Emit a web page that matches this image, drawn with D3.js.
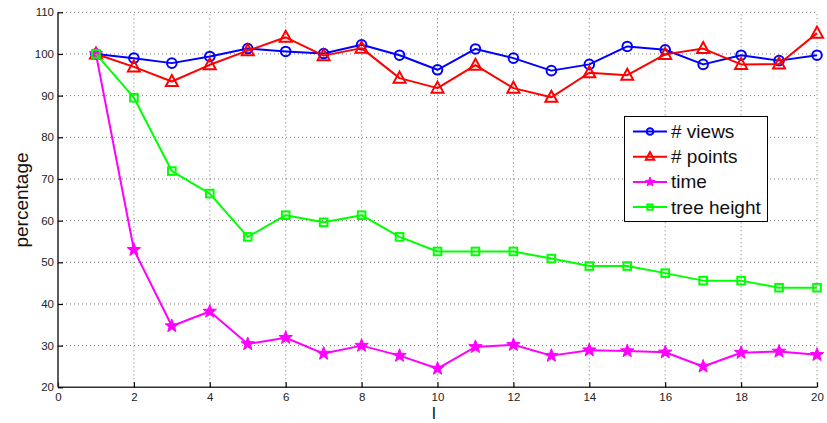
<!DOCTYPE html>
<html><head><meta charset="utf-8">
<script src="https://cdn.jsdelivr.net/npm/d3@7/dist/d3.min.js"></script>
<style>body{margin:0;background:#fff}svg{display:block}text{font-family:"Liberation Sans",Arial,sans-serif}</style>
</head><body><svg id="c" width="827" height="423"></svg>
<script>
const xs = d3.range(1, 21);
const views  = [100, 99.0, 97.8, 99.4, 101.3, 100.6, 100.1, 102.2, 99.7, 96.2, 101.2, 99.0, 96.0, 97.5, 101.8, 101.0, 97.5, 99.7, 98.4, 99.7];
const points = [100, 96.9, 93.4, 97.4, 100.8, 104.0, 99.6, 101.4, 94.2, 91.8, 97.3, 91.8, 89.6, 95.5, 94.9, 99.9, 101.3, 97.5, 97.6, 105.0];
const time   = [100, 53.0, 34.7, 38.2, 30.4, 31.9, 28.1, 30.0, 27.6, 24.5, 29.7, 30.2, 27.6, 28.9, 28.7, 28.4, 25.0, 28.3, 28.6, 27.8];
const treeH  = [100, 89.5, 71.9, 66.5, 56.1, 61.3, 59.6, 61.3, 56.1, 52.6, 52.6, 52.6, 50.9, 49.1, 49.1, 47.4, 45.6, 45.6, 43.9, 43.9];
const seriesNames = ["# views", "# points", "time", "tree height"];
const seriesColors = ["#0000ff", "#ff0000", "#ff00ff", "#00ff00"];
const seriesMarkers = ["circle", "triangle", "star", "square"];
const xTicks = d3.range(0, 21, 2);
const yTicks = d3.range(20, 111, 10);

const svg = d3.select("#c");
const x = d3.scaleLinear().domain([0, 20]).range([58, 817]);
const y = d3.scaleLinear().domain([20, 110]).range([387.3, 12.3]);

// grid
const g = svg.append("g");
g.selectAll(".gx").data(xTicks.filter(d => d > 0)).enter().append("line")
  .attr("x1", d => x(d)).attr("x2", d => x(d)).attr("y1", y(20)).attr("y2", y(110))
  .attr("stroke", "#777").attr("stroke-width", 1).attr("stroke-dasharray", "1,3");
g.selectAll(".gy").data(yTicks.filter(d => d > 20)).enter().append("line")
  .attr("x1", x(0)).attr("x2", x(20)).attr("y1", d => y(d)).attr("y2", d => y(d))
  .attr("stroke", "#777").attr("stroke-width", 1).attr("stroke-dasharray", "1,3");

// axes
const xAxis = d3.axisBottom(x).tickValues(xTicks).tickSize(-5).tickPadding(6).tickFormat(d3.format("d"));
const yAxis = d3.axisLeft(y).tickValues(yTicks).tickSize(-5).tickPadding(4).tickFormat(d3.format("d"));
const ax = svg.append("g").attr("transform", `translate(0,${y(20)})`).call(xAxis);
const ay = svg.append("g").attr("transform", `translate(${x(0)},0)`).call(yAxis);
[ax, ay].forEach(a => {
  a.select(".domain").attr("stroke", "#333").attr("stroke-width", 1.6);
  a.selectAll(".tick line").attr("stroke", "#000").attr("stroke-width", 1.2);
  a.selectAll(".tick text").attr("font-size", 11.5).attr("fill", "#222")
   .attr("font-family", "'Liberation Sans',Arial,sans-serif");
});
ay.select(".domain").attr("d", `M0,${y(20)}V${y(110)}`);
ax.select(".domain").attr("d", `M${x(0)},0H${x(20)}`);

// labels
svg.append("text").attr("transform", "translate(28,200) rotate(-90)").attr("text-anchor", "middle")
  .attr("font-size", 19).attr("fill", "#111").text("percentage");
svg.append("text").attr("x", 434).attr("y", 419).attr("text-anchor", "middle")
  .attr("font-size", 17).attr("fill", "#111").text("l");

function starPath(R, r) {
  let p = [];
  for (let i = 0; i < 10; i++) {
    const rad = i % 2 ? r : R;
    const a = -Math.PI / 2 + i * Math.PI / 5;
    p.push([rad * Math.cos(a), rad * Math.sin(a)]);
  }
  return "M" + p.map(q => q.join(",")).join("L") + "Z";
}
function drawMarker(sel, type, color, scale) {
  const s = scale;
  if (type === "circle") sel.append("circle").attr("r", 4.8 * s).attr("fill", "none").attr("stroke", color).attr("stroke-width", 2);
  else if (type === "triangle") sel.append("path").attr("d", `M0,${-6.5*s}L${6*s},${4.5*s}L${-6*s},${4.5*s}Z`).attr("fill", "none").attr("stroke", color).attr("stroke-width", 2);
  else if (type === "star") sel.append("path").attr("d", starPath(7 * s, 2.9 * s)).attr("fill", color).attr("stroke", color).attr("stroke-width", 1);
  else if (type === "square") sel.append("rect").attr("x", -3.8 * s).attr("y", -3.8 * s).attr("width", 7.6 * s).attr("height", 7.6 * s).attr("fill", "none").attr("stroke", color).attr("stroke-width", 2);
}

const allSeries = [views, points, time, treeH];
const line = d3.line().x((d, i) => x(xs[i])).y(d => y(d));
allSeries.forEach((vals, k) => {
  const sg = svg.append("g");
  sg.append("path").datum(vals).attr("d", line).attr("fill", "none")
    .attr("stroke", seriesColors[k]).attr("stroke-width", 2).attr("stroke-linejoin", "round");
  vals.forEach((v, i) => {
    const m = sg.append("g").attr("transform", `translate(${x(xs[i])},${y(v)})`);
    drawMarker(m, seriesMarkers[k], seriesColors[k], 1);
  });
});

// legend
const lg = svg.append("g");
lg.append("rect").attr("x", 624.5).attr("y", 116.5).attr("width", 143).attr("height", 105)
  .attr("fill", "#fff").attr("stroke", "#000").attr("stroke-width", 1);
seriesNames.forEach((n, k) => {
  const yy = 131.5 + k * 25.2;
  lg.append("line").attr("x1", 633).attr("x2", 667).attr("y1", yy).attr("y2", yy)
    .attr("stroke", seriesColors[k]).attr("stroke-width", 2);
  const m = lg.append("g").attr("transform", `translate(650,${yy})`);
  drawMarker(m, seriesMarkers[k], seriesColors[k], 0.7);
  lg.append("text").attr("x", 671).attr("y", yy + 6.5).attr("font-size", 19).attr("fill", "#111").text(n);
});
</script></body></html>
